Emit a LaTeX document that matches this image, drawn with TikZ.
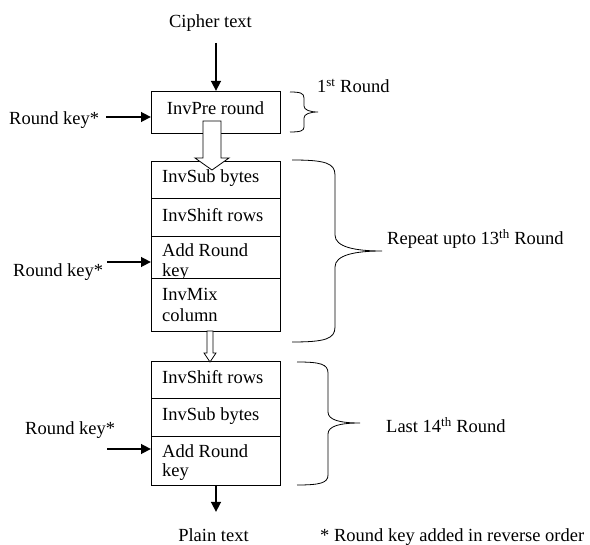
\documentclass[tikz,border=0pt]{standalone}
\usepackage{fontspec}
\setmainfont{Liberation Serif}
\usetikzlibrary{arrows.meta}
\tikzset{
  cell/.style={draw, fill=white, line width=0.8pt, rectangle, minimum width=129pt,
               inner sep=0pt, outer sep=0pt, anchor=north west},
  lbl/.style={anchor=base west, inner sep=0pt},
  ctr/.style={anchor=base, inner sep=0pt},
  fat/.style={line width=2.6pt, -{Triangle[length=10pt,width=9.5pt]}},
  hollow/.style={draw, fill=white, line width=0.8pt, line join=miter},
  brace/.style={draw, line width=0.8pt}
}
\begin{document}
\begin{tikzpicture}[x=1pt, y=-1pt, font=\fontsize{18.5}{20}\selectfont]
\useasboundingbox (0,0) rectangle (590,545);

% first round
\node[ctr] (cipher) at (210.5,28) {Cipher text};
\node[cell, minimum height=42pt] (pre) at (151,91) {};
\node[ctr] (pret) at (215.5,115) {InvPre round};

% repeated rounds
\node[cell, minimum height=37pt] (r1) at (151,161) {};
\node[lbl] (r1t) at (162,183) {InvSub bytes};
\node[cell, minimum height=38pt] (r2) at (151,198) {};
\node[lbl] (r2t) at (162,222) {InvShift rows};
\node[cell, minimum height=42pt] (r3) at (151,236) {};
\node[lbl] (r3t) at (162,257) {Add Round};
\node[lbl] (r3u) at (162,277) {key};
\node[cell, minimum height=53pt] (r4) at (151,278) {};
\node[lbl] (r4t) at (162,301) {InvMix};
\node[lbl] (r4u) at (162,322) {column};

% last round
\node[cell, minimum height=37pt] (l1) at (151,361) {};
\node[lbl] (l1t) at (162,384) {InvShift rows};
\node[cell, minimum height=38pt] (l2) at (151,398) {};
\node[lbl] (l2t) at (162,421) {InvSub bytes};
\node[cell, minimum height=49pt] (l3) at (151,436) {};
\node[lbl] (l3t) at (162,458) {Add Round};
\node[lbl] (l3u) at (162,477) {key};
\node[ctr] (plain) at (213.5,542) {Plain text};

% round keys
\node[lbl] (key1) at (9,125) {Round key*};
\node[lbl] (key2) at (13,277) {Round key*};
\node[lbl] (key3) at (25,435) {Round key*};

% input / output and key arrows
\coordinate (cin) at (216,43);
\coordinate (pout) at (216,512);
\coordinate (k1) at (106,117);
\coordinate (k2) at (107,262);
\coordinate (k3) at (107,449);
\draw[fat] (cin) -- (cin |- pre.north);
\draw[fat] (pout |- l3.south) -- (pout);
\draw[fat] (k1) -- (k1 -| pre.west);
\draw[fat] (k2) -- (k2 -| r3.west);
\draw[fat] (k3) -- (k3 -| l3.west);

% hollow block arrows between stages
\path[hollow] (203,121) -- (221,121) -- (221,158) -- (229,158) -- (212,170)
  -- (195,158) -- (203,158) -- cycle;
\path[hollow] (207,331) -- (213,331) -- (213,353) -- (216,353) -- (210,362)
  -- (204,353) -- (207,353) -- cycle;

% braces
\path[brace] (290,92) .. controls (300,92) and (304,93) .. (304,98) -- (304,106)
  .. controls (304,110) and (310,112) .. (318,112)
  .. controls (310,112) and (304,114) .. (304,118) -- (304,127)
  .. controls (304,131) and (300,132) .. (290,132);
\path[brace] (292,160) .. controls (325,160) and (335,163) .. (335,175) -- (335,235)
  .. controls (335,247) and (355,251) .. (382,251)
  .. controls (355,251) and (335,255) .. (335,267) -- (335,327)
  .. controls (335,339) and (325,342) .. (292,342);
\path[brace] (297,362) .. controls (320,362) and (328,364) .. (328,373) -- (328,412)
  .. controls (328,420) and (340,423) .. (360,423)
  .. controls (340,423) and (328,426) .. (328,434) -- (328,475)
  .. controls (328,483) and (320,485) .. (297,485);

% brace labels
\node[lbl] (first) at (317,93) {1\textsuperscript{st} Round};
\node[lbl] (rep) at (387,245) {Repeat upto 13\textsuperscript{th} Round};
\node[lbl] (last) at (386,433) {Last 14\textsuperscript{th} Round};
\node[lbl] (note) at (320,542) {* Round key added in reverse order};
\end{tikzpicture}
\end{document}
